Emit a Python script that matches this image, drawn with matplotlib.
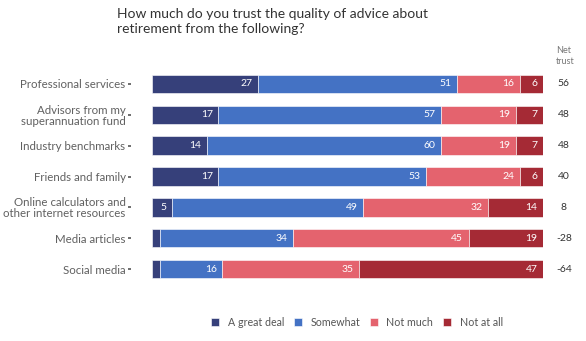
import matplotlib.pyplot as plt

plt.rcParams['font.family'] = ['Lato', 'DejaVu Sans']

# data
categories = [
    "Professional services",
    "Advisors from my\nsuperannuation fund",
    "Industry benchmarks",
    "Friends and family",
    "Online calculators and\nother internet resources",
    "Media articles",
    "Social media",
]
great_deal = [27, 17, 14, 17, 5, 2, 2]
somewhat = [51, 57, 60, 53, 49, 34, 16]
not_much = [16, 19, 19, 24, 32, 45, 35]
not_at_all = [6, 7, 7, 6, 14, 19, 47]
net_trust = [56, 48, 48, 40, 8, -28, -64]

series_names = ["A great deal", "Somewhat", "Not much", "Not at all"]
colors = ["#36407a", "#4472c4", "#e4636e", "#a52a35"]


def plotting():
    fig = plt.figure(figsize=(5.86, 3.41), dpi=100)
    ax = fig.add_axes([152 / 586, 1 - 284.5 / 341, (543 - 152) / 586, (284.5 - 68.5) / 341])

    # spine offset first: moving the spine resets the ticks
    ax.spines["left"].set_position(("outward", 15))
    for s in ax.spines.values():
        s.set_visible(False)

    y = list(range(len(categories)))
    left = [0] * len(categories)
    handles = []
    for name, vals, col in zip(series_names, [great_deal, somewhat, not_much, not_at_all], colors):
        bars = ax.barh(y, vals, left=left, height=0.6, color=col,
                       edgecolor="white", linewidth=0.4, label=name)
        handles.append(bars)
        for yi, l, v in zip(y, left, vals):
            if v >= 4:
                ax.annotate(str(v), (l + v, yi), xytext=(-4, 0), textcoords="offset points",
                            ha="right", va="center", color="white", fontsize=7.5)
        left = [a + b for a, b in zip(left, vals)]

    ax.set_xlim(0, 100)
    ax.set_ylim(len(categories) - 0.5, -0.5)
    ax.set_xticks([])
    ax.set_yticks(y)
    ax.set_yticklabels(categories, linespacing=1.0)
    ax.tick_params(axis="y", length=2, width=1.2, color="#555555", pad=2,
                   labelsize=8.3, labelcolor="#606060")

    # net trust column
    for yi, n in zip(y, net_trust):
        ax.annotate(str(n), (100, yi), xytext=(15, 0), textcoords="offset points",
                    ha="center", va="center", fontsize=7.5, color="#333333",
                    annotation_clip=False)
    fig.text(556 / 586, 1 - 56 / 341, "Net\ntrust", fontsize=6.5, color="#777777",
             ha="left", va="center", linespacing=1.3)

    fig.text(117 / 586, 1 - 21.5 / 341,
             "How much do you trust the quality of advice about\nretirement from the following?",
             fontsize=10, color="#333333", ha="left", va="center", linespacing=1.35)

    fig.legend(handles, series_names, loc="center", ncol=4,
               bbox_to_anchor=(357 / 586, 1 - 322 / 341), frameon=False,
               fontsize=7.7, labelcolor="#555555", handlelength=0.75, handleheight=0.75,
               handletextpad=0.8, columnspacing=0.9)

    fig.savefig("out.png", dpi=100)


if __name__ == "__main__":
    plotting()
